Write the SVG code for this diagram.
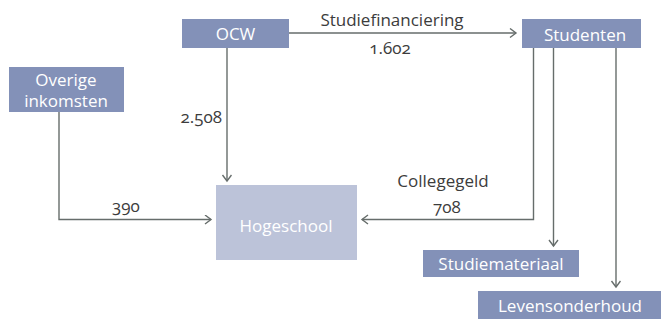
<svg xmlns="http://www.w3.org/2000/svg" width="661" height="320" viewBox="0 0 661 320">
<style>
.box{fill:#8391b8}
.lbox{fill:#bcc3d9}
.bt{font-family:"Open Sans","Noto Sans",sans-serif;font-size:17px;fill:#ffffff;text-anchor:middle}
.lt{font-family:"Open Sans","Noto Sans",sans-serif;font-size:17px;fill:#3c3c3c;text-anchor:middle;font-variant-numeric:oldstyle-nums}
.ln{fill:none;stroke:#666d6b;stroke-width:1.4}
</style>
<defs>
<marker id="ah" markerUnits="userSpaceOnUse" markerWidth="10" markerHeight="12" refX="7" refY="5" orient="auto">
<path d="M1,0.5 L7,5 L1,9.5" fill="none" stroke="#666d6b" stroke-width="1.4"/>
</marker>
</defs>
<g id="connectors">
<line class="ln" x1="289" y1="33" x2="516" y2="33" marker-end="url(#ah)"/>
<line class="ln" x1="227" y1="48" x2="227" y2="181" marker-end="url(#ah)"/>
<polyline class="ln" points="59,112 59,219.5 211,219.5" marker-end="url(#ah)"/>
<polyline class="ln" points="533.5,48 533.5,219.5 362,219.5" marker-end="url(#ah)"/>
<line class="ln" x1="553.5" y1="48" x2="553.5" y2="246" marker-end="url(#ah)"/>
<line class="ln" x1="616" y1="48" x2="616" y2="287" marker-end="url(#ah)"/>
<text class="lt" x="392" y="25.5">Studiefinanciering</text>
<text class="lt" x="390" y="54">1.602</text>
<text class="lt" x="222" y="122.5" style="text-anchor:end">2.508</text>
<text class="lt" x="126" y="211.5">390</text>
<text class="lt" x="443" y="186.5">Collegegeld</text>
<text class="lt" x="447" y="213">708</text>
</g>
<g id="ocw">
<rect class="box" x="182" y="19" width="107" height="29"/>
<text class="bt" x="235.5" y="40">OCW</text>
</g>
<g id="studenten">
<rect class="box" x="522" y="19" width="119" height="29"/>
<text class="bt" x="585" y="40.5">Studenten</text>
</g>
<g id="overige">
<rect class="box" x="9" y="67" width="115" height="45"/>
<text class="bt" x="66" y="85.5">Overige</text>
<text class="bt" x="66" y="106.5">inkomsten</text>
</g>
<g id="hogeschool">
<rect class="lbox" x="216" y="185" width="141" height="75"/>
<text class="bt" x="286" y="231.5">Hogeschool</text>
</g>
<g id="studiemateriaal">
<rect class="box" x="423" y="250" width="156" height="27"/>
<text class="bt" x="501" y="270">Studiemateriaal</text>
</g>
<g id="levensonderhoud">
<rect class="box" x="478" y="291" width="183" height="28"/>
<text class="bt" x="570" y="311.5">Levensonderhoud</text>
</g>
</svg>
